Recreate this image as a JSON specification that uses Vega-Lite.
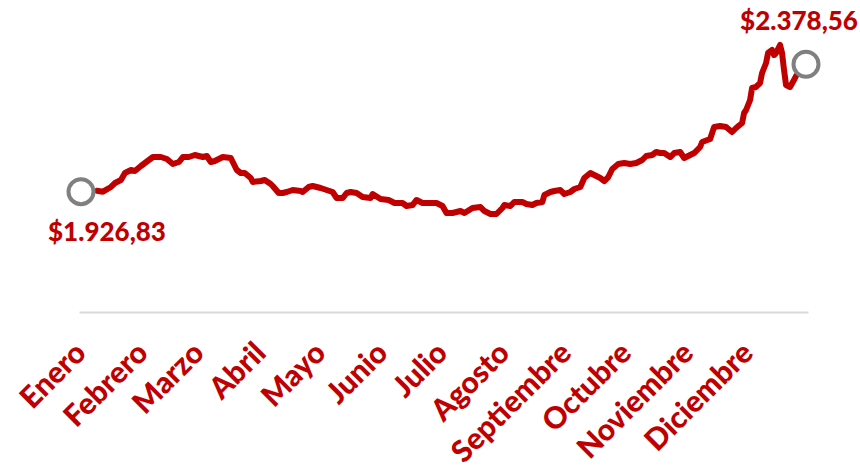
{
  "$schema": "https://vega.github.io/schema/vega-lite/v6.json",
  "width": 729,
  "height": 282,
  "autosize": {"type": "none"},
  "padding": {"left": 79, "top": 30, "right": 52, "bottom": 153},
  "background": "white",
  "config": {"view": {"stroke": null}},
  "encoding": {
    "x": {
      "field": "date",
      "type": "temporal",
      "scale": {
        "type": "utc",
        "domain": [
          {"year": 2014, "month": 1, "date": 1, "utc": true},
          {"year": 2015, "month": 1, "date": 1, "utc": true}
        ]
      },
      "axis": {
        "title": null,
        "grid": false,
        "ticks": false,
        "tickSize": 0,
        "domainColor": "#d9d9d9",
        "domainWidth": 2,
        "values": [
          {"year": 2014, "month": 1, "date": 1, "utc": true},
          {"year": 2014, "month": 2, "date": 1, "utc": true},
          {"year": 2014, "month": 3, "date": 1, "utc": true},
          {"year": 2014, "month": 4, "date": 1, "utc": true},
          {"year": 2014, "month": 5, "date": 1, "utc": true},
          {"year": 2014, "month": 6, "date": 1, "utc": true},
          {"year": 2014, "month": 7, "date": 1, "utc": true},
          {"year": 2014, "month": 8, "date": 1, "utc": true},
          {"year": 2014, "month": 9, "date": 1, "utc": true},
          {"year": 2014, "month": 10, "date": 1, "utc": true},
          {"year": 2014, "month": 11, "date": 1, "utc": true},
          {"year": 2014, "month": 12, "date": 1, "utc": true}
        ],
        "labelExpr": "['Enero','Febrero','Marzo','Abril','Mayo','Junio','Julio','Agosto','Septiembre','Octubre','Noviembre','Diciembre'][utcmonth(datum.value)]",
        "labelAngle": -45,
        "labelAlign": "right",
        "labelBaseline": "middle",
        "labelPadding": 36,
        "labelOffset": 2,
        "labelFont": "Lato",
        "labelFontWeight": 900,
        "labelFontSize": 30,
        "labelColor": "#c00000",
        "labelOverlap": false,
        "labelBound": false,
        "labelFlush": false
      }
    },
    "y": {
      "field": "value",
      "type": "quantitative",
      "scale": {"domain": [1500, 2500], "zero": false, "nice": false},
      "axis": null
    }
  },
  "layer": [
    {
      "data": {"values": [
      {"date": "2014-01-10", "value": 1930.1},
      {"date": "2014-01-13", "value": 1926.6},
      {"date": "2014-01-17", "value": 1943.3},
      {"date": "2014-01-19", "value": 1957.4},
      {"date": "2014-01-22", "value": 1968.1},
      {"date": "2014-01-24", "value": 1992.9},
      {"date": "2014-01-27", "value": 2003.5},
      {"date": "2014-01-29", "value": 2000.0},
      {"date": "2014-02-01", "value": 2017.7},
      {"date": "2014-02-03", "value": 2028.4},
      {"date": "2014-02-05", "value": 2039.0},
      {"date": "2014-02-07", "value": 2049.6},
      {"date": "2014-02-11", "value": 2049.6},
      {"date": "2014-02-14", "value": 2042.5},
      {"date": "2014-02-17", "value": 2024.8},
      {"date": "2014-02-20", "value": 2031.9},
      {"date": "2014-02-22", "value": 2049.6},
      {"date": "2014-02-25", "value": 2049.6},
      {"date": "2014-02-28", "value": 2056.7},
      {"date": "2014-03-04", "value": 2049.6},
      {"date": "2014-03-06", "value": 2053.2},
      {"date": "2014-03-08", "value": 2031.9},
      {"date": "2014-03-10", "value": 2035.4},
      {"date": "2014-03-14", "value": 2049.6},
      {"date": "2014-03-18", "value": 2046.1},
      {"date": "2014-03-19", "value": 2031.9},
      {"date": "2014-03-21", "value": 2003.5},
      {"date": "2014-03-23", "value": 1992.9},
      {"date": "2014-03-25", "value": 1992.9},
      {"date": "2014-03-28", "value": 1975.2},
      {"date": "2014-03-29", "value": 1961.0},
      {"date": "2014-04-02", "value": 1964.5},
      {"date": "2014-04-04", "value": 1968.1},
      {"date": "2014-04-07", "value": 1953.9},
      {"date": "2014-04-08", "value": 1946.8},
      {"date": "2014-04-11", "value": 1922.0},
      {"date": "2014-04-13", "value": 1922.0},
      {"date": "2014-04-15", "value": 1925.5},
      {"date": "2014-04-18", "value": 1932.6},
      {"date": "2014-04-22", "value": 1929.1},
      {"date": "2014-04-23", "value": 1925.5},
      {"date": "2014-04-26", "value": 1943.3},
      {"date": "2014-04-28", "value": 1946.8},
      {"date": "2014-05-02", "value": 1939.7},
      {"date": "2014-05-05", "value": 1932.6},
      {"date": "2014-05-08", "value": 1925.5},
      {"date": "2014-05-10", "value": 1904.2},
      {"date": "2014-05-13", "value": 1904.2},
      {"date": "2014-05-15", "value": 1922.0},
      {"date": "2014-05-17", "value": 1925.5},
      {"date": "2014-05-20", "value": 1922.0},
      {"date": "2014-05-23", "value": 1907.8},
      {"date": "2014-05-27", "value": 1904.2},
      {"date": "2014-05-28", "value": 1918.4},
      {"date": "2014-06-01", "value": 1900.7},
      {"date": "2014-06-05", "value": 1897.2},
      {"date": "2014-06-08", "value": 1886.5},
      {"date": "2014-06-12", "value": 1886.5},
      {"date": "2014-06-14", "value": 1875.9},
      {"date": "2014-06-17", "value": 1879.4},
      {"date": "2014-06-19", "value": 1897.2},
      {"date": "2014-06-22", "value": 1886.5},
      {"date": "2014-06-26", "value": 1886.5},
      {"date": "2014-06-29", "value": 1886.5},
      {"date": "2014-07-02", "value": 1875.9},
      {"date": "2014-07-04", "value": 1851.1},
      {"date": "2014-07-07", "value": 1851.1},
      {"date": "2014-07-11", "value": 1858.1},
      {"date": "2014-07-13", "value": 1851.1},
      {"date": "2014-07-17", "value": 1868.8},
      {"date": "2014-07-21", "value": 1872.3},
      {"date": "2014-07-23", "value": 1858.1},
      {"date": "2014-07-26", "value": 1847.5},
      {"date": "2014-07-29", "value": 1847.5},
      {"date": "2014-08-01", "value": 1868.8},
      {"date": "2014-08-02", "value": 1879.4},
      {"date": "2014-08-05", "value": 1875.9},
      {"date": "2014-08-07", "value": 1890.1},
      {"date": "2014-08-11", "value": 1890.1},
      {"date": "2014-08-13", "value": 1883.0},
      {"date": "2014-08-16", "value": 1879.4},
      {"date": "2014-08-18", "value": 1886.5},
      {"date": "2014-08-21", "value": 1890.1},
      {"date": "2014-08-22", "value": 1914.9},
      {"date": "2014-08-25", "value": 1925.5},
      {"date": "2014-08-27", "value": 1929.1},
      {"date": "2014-08-30", "value": 1932.6},
      {"date": "2014-09-01", "value": 1918.4},
      {"date": "2014-09-04", "value": 1925.5},
      {"date": "2014-09-06", "value": 1936.2},
      {"date": "2014-09-09", "value": 1943.3},
      {"date": "2014-09-11", "value": 1975.2},
      {"date": "2014-09-14", "value": 1992.9},
      {"date": "2014-09-16", "value": 1985.8},
      {"date": "2014-09-19", "value": 1975.2},
      {"date": "2014-09-21", "value": 1964.5},
      {"date": "2014-09-23", "value": 1978.7},
      {"date": "2014-09-25", "value": 2007.1},
      {"date": "2014-09-28", "value": 2024.8},
      {"date": "2014-10-01", "value": 2028.4},
      {"date": "2014-10-04", "value": 2024.8},
      {"date": "2014-10-07", "value": 2028.4},
      {"date": "2014-10-10", "value": 2039.0},
      {"date": "2014-10-12", "value": 2053.2},
      {"date": "2014-10-15", "value": 2056.7},
      {"date": "2014-10-17", "value": 2067.4},
      {"date": "2014-10-19", "value": 2063.8},
      {"date": "2014-10-21", "value": 2063.8},
      {"date": "2014-10-24", "value": 2049.6},
      {"date": "2014-10-26", "value": 2063.8},
      {"date": "2014-10-29", "value": 2067.4},
      {"date": "2014-10-31", "value": 2046.1},
      {"date": "2014-11-03", "value": 2056.7},
      {"date": "2014-11-05", "value": 2063.8},
      {"date": "2014-11-08", "value": 2085.1},
      {"date": "2014-11-09", "value": 2102.8},
      {"date": "2014-11-13", "value": 2113.5},
      {"date": "2014-11-15", "value": 2156.0},
      {"date": "2014-11-18", "value": 2159.6},
      {"date": "2014-11-21", "value": 2156.0},
      {"date": "2014-11-24", "value": 2138.3},
      {"date": "2014-11-26", "value": 2152.5},
      {"date": "2014-11-29", "value": 2170.2},
      {"date": "2014-11-30", "value": 2205.7},
      {"date": "2014-12-01", "value": 2216.3},
      {"date": "2014-12-03", "value": 2251.8},
      {"date": "2014-12-04", "value": 2294.3},
      {"date": "2014-12-06", "value": 2297.9},
      {"date": "2014-12-07", "value": 2305.0},
      {"date": "2014-12-08", "value": 2312.0},
      {"date": "2014-12-09", "value": 2347.5},
      {"date": "2014-12-11", "value": 2383.0},
      {"date": "2014-12-12", "value": 2418.4},
      {"date": "2014-12-14", "value": 2429.0},
      {"date": "2014-12-15", "value": 2411.3},
      {"date": "2014-12-16", "value": 2418.4},
      {"date": "2014-12-18", "value": 2446.8},
      {"date": "2014-12-19", "value": 2418.4},
      {"date": "2014-12-20", "value": 2358.1},
      {"date": "2014-12-21", "value": 2305.0},
      {"date": "2014-12-23", "value": 2297.9},
      {"date": "2014-12-25", "value": 2322.7},
      {"date": "2014-12-26", "value": 2336.9}
      ]},
      "mark": {"type": "line", "color": "#c00000", "strokeWidth": 6, "strokeJoin": "round", "strokeCap": "round"}
    },
    {
      "data": {"values": [
        {"date": "2014-01-02", "value": 1926.83},
        {"date": "2014-12-31", "value": 2378.56}
      ]},
      "mark": {"type": "point", "shape": "circle", "size": 625, "filled": false, "stroke": "#808080", "strokeWidth": 4, "opacity": 1}
    },
    {
      "data": {"values": [
        {"date": "2014-01-02", "value": 1926.83, "label": "$1.926,83"}
      ]},
      "mark": {"type": "text", "font": "Lato", "fontWeight": 900, "fontSize": 26, "color": "#c00000", "align": "center", "baseline": "alphabetic", "dx": 26, "dy": 49},
      "encoding": {"text": {"field": "label", "type": "nominal"}}
    },
    {
      "data": {"values": [
        {"date": "2014-12-31", "value": 2378.56, "label": "$2.378,56"}
      ]},
      "mark": {"type": "text", "font": "Lato", "fontWeight": 900, "fontSize": 26, "color": "#c00000", "align": "center", "baseline": "alphabetic", "dx": -7, "dy": -34},
      "encoding": {"text": {"field": "label", "type": "nominal"}}
    }
  ]
}
